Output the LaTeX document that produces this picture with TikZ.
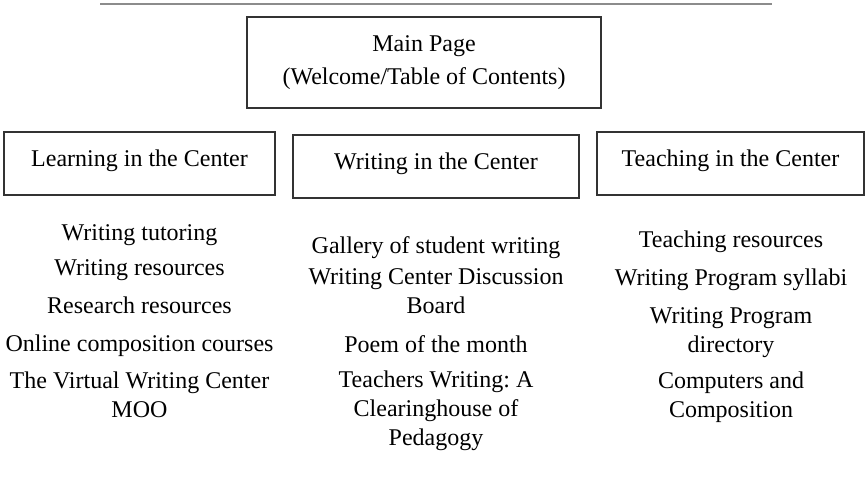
\documentclass[tikz,border=0pt]{standalone}
\usepackage{fontspec}
\setmainfont{Liberation Serif}
\frenchspacing

\tikzset{
  frame/.style={draw=black!80, line width=0.7pt, inner sep=0pt, outer sep=0pt},
  head/.style={frame, font=\fontsize{12}{14.5}\selectfont, text height=8pt, text depth=5.5pt},
  item/.style={align=center, anchor=base, inner sep=0pt, font=\fontsize{12}{14.5}\selectfont},
}

\begin{document}
\begin{tikzpicture}[x=0.5pt,y=-0.5pt]
        \useasboundingbox (0,0) rectangle (865,478);

        % rule at the top
        \coordinate (R1) at (100,4);
        \coordinate (R2) at (772,4);
        \draw[line width=0.85pt, black!45] (R1)--(R2);

        % main page
        \node[frame, align=center, minimum width=177pt, minimum height=45.5pt,
              font=\fontsize{12}{16.5}\selectfont] (main) at (424,62.5)
              {Main Page\\(Welcome/Table of Contents)};

        % the three sections
        \node[head, minimum width=135.5pt, minimum height=31.5pt] (learn) at (139.5,163.5) {Learning in the Center};
        \node[head, minimum width=143pt, minimum height=31.5pt] (write) at (436,166.5) {Writing in the Center};
        \node[head, minimum width=133.5pt, minimum height=31.5pt] (teach) at (730.5,163.5) {Teaching in the Center};

        % learning (base = last line)
        \node[item] (lTutor) at (139.5,240) {Writing tutoring};
        \node[item] (lWres) at (139.5,275) {Writing resources};
        \node[item] (lRres) at (139.5,313) {Research resources};
        \node[item] (lOnline) at (139.5,351) {Online composition courses};
        \node[item] (lMoo) at (139.5,417) {The Virtual Writing Center\\MOO};

        % writing
        \node[item] (wGallery) at (436,253) {Gallery of student writing};
        \node[item] (wBoard) at (436,313) {Writing Center Discussion\\Board};
        \node[item] (wPoem) at (436,352) {Poem of the month};
        \node[item] (wTeach) at (436,445) {Teachers Writing: A\\Clearinghouse of\\Pedagogy};

        % teaching
        \node[item] (tRes) at (731,247) {Teaching resources};
        \node[item] (tSyl) at (731,285) {Writing Program syllabi};
        \node[item] (tDir) at (731,352) {Writing Program\\directory};
        \node[item] (tComp) at (731,417) {Computers and\\Composition};
\end{tikzpicture}
\end{document}
